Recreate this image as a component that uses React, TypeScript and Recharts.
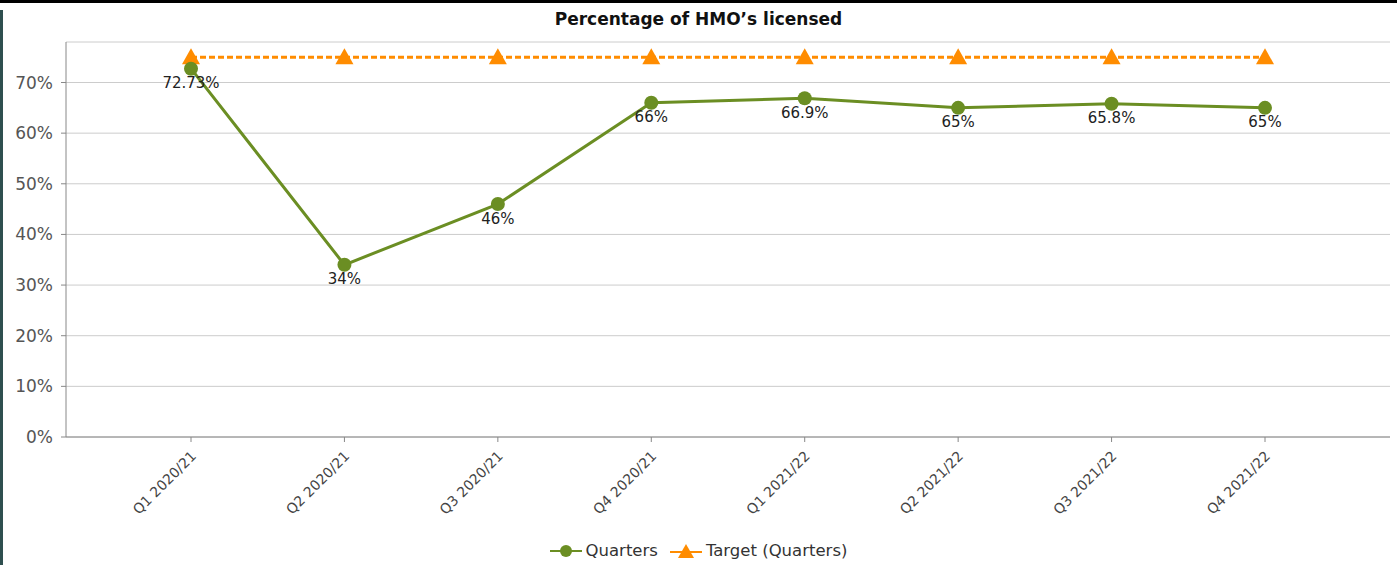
import { LineChart, Line, XAxis, YAxis, CartesianGrid, LabelList } from 'recharts'

const quarters = ['Q1 2020/21', 'Q2 2020/21', 'Q3 2020/21', 'Q4 2020/21', 'Q1 2021/22', 'Q2 2021/22', 'Q3 2021/22', 'Q4 2021/22']
const actual = [72.73, 34, 46, 66, 66.9, 65, 65.8, 65]
const target = [75, 75, 75, 75, 75, 75, 75, 75]
const yTicks = [0, 10, 20, 30, 40, 50, 60, 70]

const GREEN = '#6b8e23'
const ORANGE = '#ff8c00'
const FONT = '"DejaVu Sans", Verdana, sans-serif'

const data = quarters.map((q, i) => ({ quarter: q, Quarters: actual[i], Target: target[i] }))

const AngledTick = ({ x, y, payload }: any) => (
  <text
    x={x + 6}
    y={y + 13}
    transform={`rotate(-45, ${x + 6}, ${y + 13})`}
    textAnchor="end"
    fontSize={14}
    fontFamily={FONT}
    fill="#444"
  >
    {payload.value}
  </text>
)

const Triangle = ({ cx, cy }: any) => {
  if (cx == null || cy == null) return null
  return <path d={`M ${cx} ${cy - 9} L ${cx + 9} ${cy + 7} L ${cx - 9} ${cy + 7} Z`} fill={ORANGE} />
}

function LegendBox() {
  return (
    <div
      style={{
        position: 'absolute', left: 0, top: 541, width: 1397, display: 'flex', justifyContent: 'center',
        gap: 12, fontFamily: FONT, fontSize: 16.5, color: '#333', alignItems: 'center',
      }}
    >
      <span style={{ display: 'flex', alignItems: 'center', gap: 4 }}>
        <svg width={32} height={16}>
          <line x1={0} y1={8} x2={32} y2={8} stroke={GREEN} strokeWidth={2} />
          <circle cx={16} cy={8} r={6} fill={GREEN} />
        </svg>
        Quarters
      </span>
      <span style={{ display: 'flex', alignItems: 'center', gap: 4 }}>
        <svg width={32} height={16}>
          <line x1={0} y1={9} x2={32} y2={9} stroke={ORANGE} strokeWidth={2} />
          <path d="M 16 1 L 24 15 L 8 15 Z" fill={ORANGE} />
        </svg>
        Target (Quarters)
      </span>
    </div>
  )
}

export default function App() {
  return (
    <div style={{ position: 'absolute', left: 0, top: 0, width: 1397, height: 565, background: '#fff', overflow: 'hidden' }}>
      <div style={{ position: 'absolute', left: 0, top: 0, width: 1397, height: 3, background: '#000' }} />
      <div style={{ position: 'absolute', left: 0, top: 10, width: 3, height: 555, background: '#2f4f4f' }} />
      <div
        style={{
          position: 'absolute', left: 0, top: 9, width: 1397, textAlign: 'center',
          fontFamily: FONT, fontWeight: 'bold', fontSize: 17, color: '#111',
        }}
      >
        Percentage of HMO’s licensed
      </div>
      <LineChart width={1397} height={565} data={data} margin={{ top: 42, right: 7, left: 0, bottom: 28 }}>
        <CartesianGrid vertical={false} stroke="#cccccc" />
        <XAxis
          dataKey="quarter"
          padding={{ left: 125, right: 125 }}
          stroke="#888"
          tickLine={{ stroke: '#888' }}
          tickSize={5}
          interval={0}
          height={100}
          tick={<AngledTick />}
        />
        <YAxis
          domain={[0, 78]}
          ticks={yTicks}
          width={66}
          stroke="#888"
          tickSize={5}
          tickMargin={8}
          tickFormatter={(v) => `${v}%`}
          tick={{ fill: '#555', fontSize: 17, fontFamily: FONT }}
          allowDataOverflow
        />
        <Line
          dataKey="Target"
          stroke={ORANGE}
          strokeWidth={3}
          strokeDasharray="6 3"
          dot={<Triangle />}
          activeDot={false}
          isAnimationActive={false}
        />
        <Line
          dataKey="Quarters"
          stroke={GREEN}
          strokeWidth={3}
          dot={{ r: 7, fill: GREEN, stroke: GREEN, strokeWidth: 0 }}
          activeDot={false}
          isAnimationActive={false}
        >
          <LabelList
            dataKey="Quarters"
            position="bottom"
            offset={9}
            formatter={(v: any) => `${v}%`}
            style={{ fontSize: 15, fontFamily: FONT, fill: '#222' }}
          />
        </Line>
      </LineChart>
      <LegendBox />
    </div>
  )
}
